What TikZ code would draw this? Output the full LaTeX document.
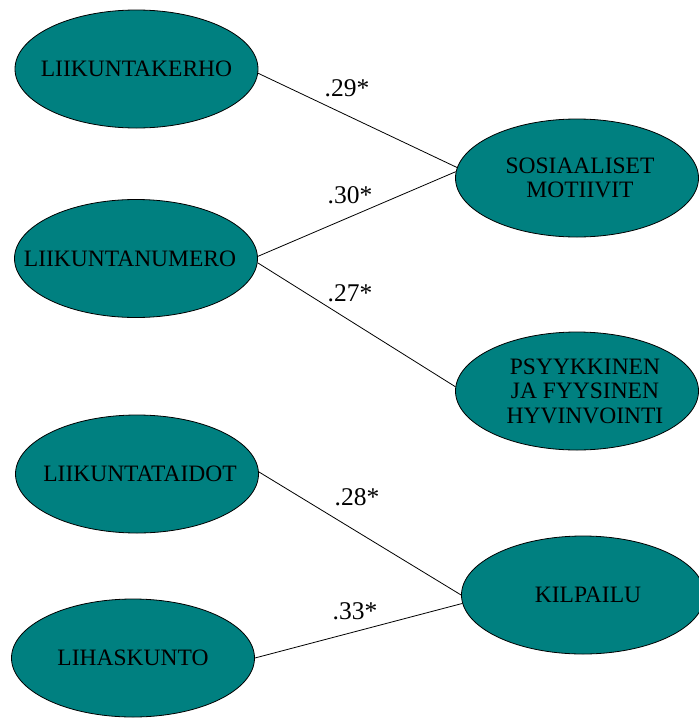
\documentclass[tikz,border=0pt]{standalone}
\usepackage{fontspec}
\setmainfont{Liberation Serif}
\usetikzlibrary{shapes.geometric}
\definecolor{teal}{HTML}{008080}
\tikzset{
  factor/.style={ellipse, draw=black, line width=0.8pt, fill=teal,
    minimum width=243pt, minimum height=118pt, inner sep=0pt},
  factortext/.style={align=center, text=black, inner sep=0pt,
    font=\fontsize{23.5}{24.5}\selectfont},
  path/.style={draw=black, line width=0.8pt},
  coef/.style={font=\fontsize{25.5}{27}\selectfont, inner sep=0pt}
}
\begin{document}
\begin{tikzpicture}[x=1pt, y=-1pt]
  \useasboundingbox (0,0) rectangle (699,718);

  % predictors
  \node[factor, label={[factortext]center:LIIKUNTAKERHO}]  (kerho)  at (136.5,69)  {};
  \node[factor, label={[factortext, xshift=-6pt]center:LIIKUNTANUMERO}] (numero) at (136,258.5) {};
  \node[factor, label={[factortext, xshift=3pt]center:LIIKUNTATAIDOT}] (taidot) at (137,474)   {};
  \node[factor, label={[factortext]center:LIHASKUNTO}]     (lihas)  at (133,658)   {};

  % motives
  \node[factor, label={[factortext, xshift=3pt]center:SOSIAALISET\\MOTIIVIT}] (sos) at (577,178) {};
  \node[factor, label={[factortext, xshift=8pt]center:PSYYKKINEN\\JA FYYSINEN\\HYVINVOINTI}] (psyk) at (577,391) {};
  \node[factor, label={[factortext, xshift=5pt]center:KILPAILU}] (kilp) at (583,595) {};

  % paths
  \draw[path] (kerho.-2)  -- (sos.175);
  \draw[path] (numero.1)  -- (sos.177.6);
  \draw[path] (numero.-2) -- (psyk.178);
  \draw[path] (taidot.1)  -- (kilp.180);
  \draw[path] (lihas.0)   -- (kilp.-176);

  % coefficients
  \node[coef] (c1) at (347,88)  {.29*};
  \node[coef] (c2) at (350,195) {.30*};
  \node[coef] (c3) at (350,293) {.27*};
  \node[coef] (c4) at (357,497) {.28*};
  \node[coef] (c5) at (355,611) {.33*};
\end{tikzpicture}
\end{document}
